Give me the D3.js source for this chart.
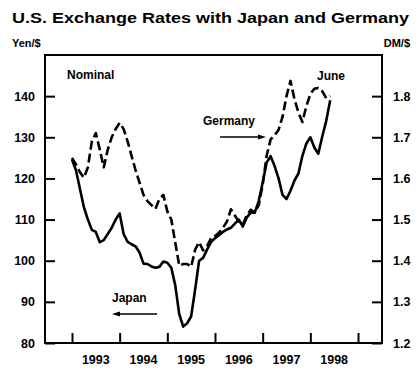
<!DOCTYPE html>
<html>
<head>
<meta charset="utf-8">
<script src="https://cdn.jsdelivr.net/npm/d3@7"></script>
<style>
  html, body { margin: 0; padding: 0; background: #fff; }
  svg { display: block; }
  text { font-family: "Liberation Sans", Arial, Helvetica, sans-serif; fill: #000; }
</style>
</head>
<body>
<svg id="chart" width="417" height="368"></svg>
<script>
// Monthly averages, January 1993 through June 1998
const startYear = 1993;
const yenPerDollar = [
  124.6, 122.0, 117.5, 113.0, 110.0, 107.5, 107.0, 104.5, 105.0, 106.5, 108.0, 110.0,
  111.5, 106.5, 104.6, 104.0, 103.5, 102.0, 99.3, 99.2, 98.6, 98.3, 98.5, 99.8,
  99.5, 98.3, 94.0, 87.0, 84.0, 84.8, 86.5, 93.0, 100.0, 100.7, 102.7, 104.5,
  105.5, 106.2, 107.0, 107.6, 108.0, 109.0, 110.0, 108.3, 110.5, 111.7, 111.7, 114.5,
  119.0, 123.9, 125.4, 123.0, 120.0, 116.0, 115.0, 117.0, 119.5, 121.2, 125.5, 128.5,
  130.0, 127.5, 126.0, 130.2, 134.0, 139.0
];
const dmPerDollar = [
  1.650, 1.634, 1.615, 1.602, 1.627, 1.690, 1.710, 1.670, 1.627, 1.670, 1.700, 1.720,
  1.735, 1.720, 1.690, 1.655, 1.620, 1.590, 1.560, 1.545, 1.535, 1.526, 1.550, 1.560,
  1.520, 1.500, 1.444, 1.388, 1.392, 1.392, 1.385, 1.427, 1.445, 1.425, 1.435, 1.455,
  1.460, 1.468, 1.480, 1.495, 1.525, 1.510, 1.495, 1.488, 1.510, 1.524, 1.517, 1.535,
  1.585, 1.655, 1.695, 1.705, 1.718, 1.750, 1.800, 1.837, 1.793, 1.760, 1.737, 1.776,
  1.805, 1.818, 1.820, 1.812, 1.795, 1.800
];
const yenTicks = [80, 90, 100, 110, 120, 130, 140];
const dmTicks = [1.2, 1.3, 1.4, 1.5, 1.6, 1.7, 1.8];
const yearLabels = [1993, 1994, 1995, 1996, 1997, 1998];
const yearTicks = [1993, 1994, 1995, 1996, 1997, 1998, 1999];

const svg = d3.select("#chart");
const box = { left: 45, right: 382, top: 55, bottom: 343 };

const x = d3.scaleLinear().domain([1992.434, 1999.503]).range([box.left, box.right]);
const yYen = d3.scaleLinear().domain([80, 150]).range([box.bottom, box.top]);
const yDm = d3.scaleLinear().domain([1.2, 1.9]).range([box.bottom, box.top]);

const t = i => startYear + i / 12;

// Title and unit captions
svg.append("text")
  .attr("x", 12).attr("y", 23)
  .attr("font-size", 14.5).attr("font-weight", "bold")
  .attr("textLength", 397).attr("lengthAdjust", "spacingAndGlyphs")
  .text("U.S. Exchange Rates with Japan and Germany");
svg.append("text").attr("x", 12).attr("y", 47)
  .attr("font-size", 11).attr("font-weight", "bold").text("Yen/$");
svg.append("text").attr("x", 410).attr("y", 47).attr("text-anchor", "end")
  .attr("font-size", 11).attr("font-weight", "bold").text("DM/$");

// Axes with inward ticks (label offset = tickPadding when ticks point inward)
const tickLen = 10;
const leftAxis = d3.axisLeft(yYen).tickValues(yenTicks).tickSizeInner(-tickLen).tickSizeOuter(0).tickPadding(10);
const rightAxis = d3.axisRight(yDm).tickValues(dmTicks).tickSizeInner(-tickLen).tickSizeOuter(0).tickPadding(11)
  .tickFormat(d3.format(".1f"));
const bottomAxis = d3.axisBottom(x).tickValues(yearTicks).tickSizeInner(-tickLen).tickSizeOuter(0).tickFormat("");

const styleAxis = g => {
  g.select(".domain").remove();
  g.selectAll(".tick line").attr("stroke", "#000").attr("stroke-width", 2);
  g.selectAll(".tick text").attr("font-size", 12.5).attr("font-weight", "bold")
    .attr("fill", "#000").style("font-family", "'Liberation Sans', Arial, sans-serif");
};

svg.append("g").attr("transform", `translate(${box.left},0)`).call(leftAxis).call(styleAxis);
svg.append("g").attr("transform", `translate(${box.right},0)`).call(rightAxis).call(styleAxis)
  .selectAll(".tick text").attr("text-anchor", "start");
svg.append("g").attr("transform", `translate(0,${box.bottom})`).call(bottomAxis).call(styleAxis);

// Year labels centred within each year
svg.append("g").selectAll("text").data(yearLabels).join("text")
  .attr("x", d => x(d + 0.5)).attr("y", 364)
  .attr("text-anchor", "middle").attr("font-size", 12.5).attr("font-weight", "bold")
  .text(d => d);

// Frame
svg.append("rect")
  .attr("x", box.left).attr("y", box.top)
  .attr("width", box.right - box.left).attr("height", box.bottom - box.top)
  .attr("fill", "none").attr("stroke", "#000").attr("stroke-width", 2);

// Series
const yenLine = d3.line().x((d, i) => x(t(i))).y(d => yYen(d));
const dmLine = d3.line().x((d, i) => x(t(i))).y(d => yDm(d));

svg.append("path").datum(yenPerDollar).attr("d", yenLine)
  .attr("fill", "none").attr("stroke", "#000").attr("stroke-width", 2.6)
  .attr("stroke-linejoin", "round");
svg.append("path").datum(dmPerDollar).attr("d", dmLine)
  .attr("fill", "none").attr("stroke", "#000").attr("stroke-width", 2.6)
  .attr("stroke-dasharray", "9,4").attr("stroke-linejoin", "round");

// Annotations
const note = (tx, xx, yy) => svg.append("text").attr("x", xx).attr("y", yy)
  .attr("font-size", 12).attr("font-weight", "bold").text(tx);
note("Nominal", 67, 79);
note("Germany", 203, 125);
note("June", 317, 80);
note("Japan", 112, 302);

const arrow = (x1, x2, yy) => {
  const dir = Math.sign(x2 - x1);
  svg.append("line").attr("x1", x1).attr("x2", x2 - dir * 4).attr("y1", yy).attr("y2", yy)
    .attr("stroke", "#000").attr("stroke-width", 1.5);
  svg.append("path")
    .attr("d", `M${x2},${yy} L${x2 - dir * 8},${yy - 2.5} L${x2 - dir * 8},${yy + 2.5} Z`)
    .attr("fill", "#000");
};
arrow(220, 266, 137);
arrow(157, 112, 314);
</script>
</body>
</html>
